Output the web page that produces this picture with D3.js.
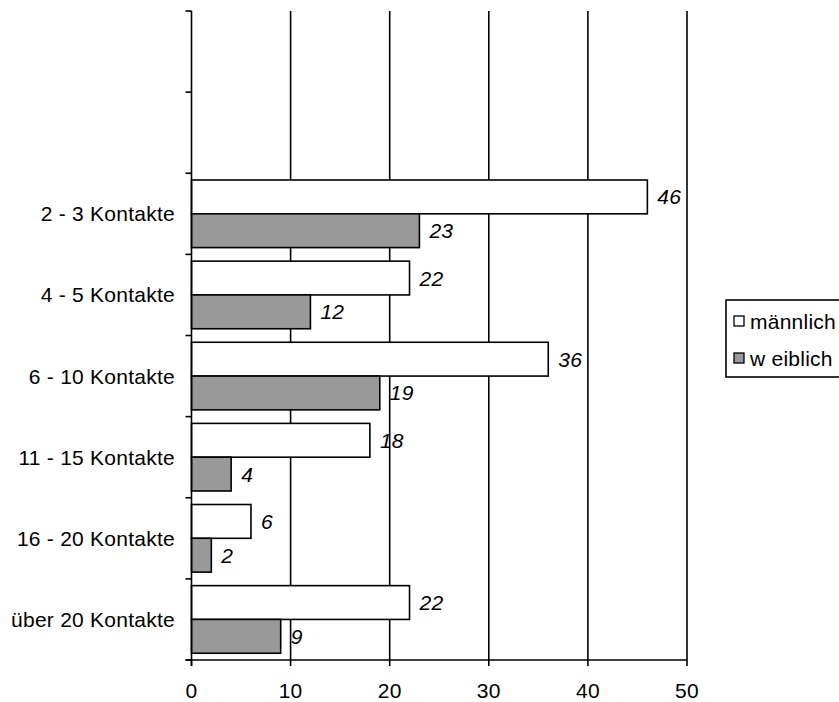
<!DOCTYPE html>
<html>
<head>
<meta charset="utf-8">
<script src="https://cdn.jsdelivr.net/npm/d3@7"></script>
<style>
  html, body { margin: 0; padding: 0; background: #fff; }
  svg { display: block; font-family: "Liberation Sans", Arial, sans-serif; }
</style>
</head>
<body>
<svg id="chart" width="839" height="702"></svg>
<script>
// Category slots, top to bottom (the two top slots are left empty)
const categories = ["", "", "2 - 3 Kontakte", "4 - 5 Kontakte", "6 - 10 Kontakte",
                    "11 - 15 Kontakte", "16 - 20 Kontakte", "über 20 Kontakte"];
const seriesNames = ["männlich", "w eiblich"];
const maleValues   = [null, null, 46, 22, 36, 18, 6, 22];
const femaleValues = [null, null, 23, 12, 19, 4, 2, 9];
const xTicks = [0, 10, 20, 30, 40, 50];
const seriesColors = ["#ffffff", "#999999"];

const svg = d3.select("#chart");
const fontSize = 21;
const spacing = 0.25;

const x = d3.scaleLinear().domain([0, 50]).range([191.5, 687]);
const y = d3.scaleBand().domain(d3.range(categories.length)).range([11, 660]).padding(0);
const ySub = d3.scaleBand().domain(seriesNames).range([0, y.bandwidth()])
  .paddingInner(0).paddingOuter(0.2);

// vertical gridlines
svg.append("g").selectAll("line")
  .data(xTicks.filter(d => d > 0))
  .join("line")
  .attr("x1", d => x(d)).attr("x2", d => x(d))
  .attr("y1", 11).attr("y2", 660)
  .attr("stroke", "#000").attr("stroke-width", 1.6);

// bars
const rows = categories.map((c, i) => ({ i, c, vals: [maleValues[i], femaleValues[i]] }));
const barG = svg.append("g");
rows.forEach(r => {
  r.vals.forEach((v, k) => {
    if (v == null) return;
    const yy = y(r.i) + ySub(seriesNames[k]);
    barG.append("rect")
      .attr("x", x(0)).attr("y", yy)
      .attr("width", x(v) - x(0)).attr("height", ySub.bandwidth())
      .attr("fill", seriesColors[k])
      .attr("stroke", "#000").attr("stroke-width", 1.6);
    barG.append("text")
      .attr("x", x(v) + 10).attr("y", yy + ySub.bandwidth() / 2)
      .attr("dominant-baseline", "central")
      .attr("font-size", fontSize).attr("font-style", "italic")
      .attr("letter-spacing", spacing)
      .text(v);
  });
});

// category axis
const yAxis = svg.append("g");
yAxis.append("line")
  .attr("x1", x(0)).attr("x2", x(0)).attr("y1", 11).attr("y2", 666)
  .attr("stroke", "#000").attr("stroke-width", 1.6);
const bounds = d3.range(categories.length + 1).map(i => i < categories.length ? y(i) : y.range()[1]);
yAxis.selectAll("line.tick").data(bounds).join("line")
  .attr("class", "tick")
  .attr("x1", x(0) - 6).attr("x2", x(0)).attr("y1", d => d).attr("y2", d => d)
  .attr("stroke", "#000").attr("stroke-width", 1.6);
yAxis.selectAll("text").data(rows.filter(r => r.c)).join("text")
  .attr("x", 175).attr("y", r => y(r.i) + y.bandwidth() / 2)
  .attr("text-anchor", "end").attr("dominant-baseline", "central")
  .attr("font-size", fontSize)
  .attr("letter-spacing", spacing)
  .text(r => r.c);

// value axis
const xAxis = svg.append("g");
xAxis.append("line")
  .attr("x1", x(0) - 6).attr("x2", x(50)).attr("y1", 660).attr("y2", 660)
  .attr("stroke", "#000").attr("stroke-width", 1.6);
xAxis.selectAll("line.tick").data(xTicks).join("line")
  .attr("class", "tick")
  .attr("x1", d => x(d)).attr("x2", d => x(d)).attr("y1", 660).attr("y2", 666)
  .attr("stroke", "#000").attr("stroke-width", 1.6);
xAxis.selectAll("text").data(xTicks).join("text")
  .attr("x", d => x(d)).attr("y", 690)
  .attr("text-anchor", "middle").attr("dominant-baseline", "central")
  .attr("font-size", fontSize)
  .attr("letter-spacing", spacing)
  .text(d => d);

// legend
const legend = svg.append("g");
legend.append("rect")
  .attr("x", 726).attr("y", 300).attr("width", 140).attr("height", 77)
  .attr("fill", "#fff").attr("stroke", "#000").attr("stroke-width", 1.6);
seriesNames.forEach((name, k) => {
  const cy = 321 + k * 37;
  legend.append("rect")
    .attr("x", 734).attr("y", cy - 5).attr("width", 10).attr("height", 10)
    .attr("fill", seriesColors[k]).attr("stroke", "#000").attr("stroke-width", 1.3);
  legend.append("text")
    .attr("x", 750).attr("y", cy)
    .attr("dominant-baseline", "central")
    .attr("font-size", fontSize)
    .attr("letter-spacing", spacing)
    .text(name);
});
</script>
</body>
</html>
